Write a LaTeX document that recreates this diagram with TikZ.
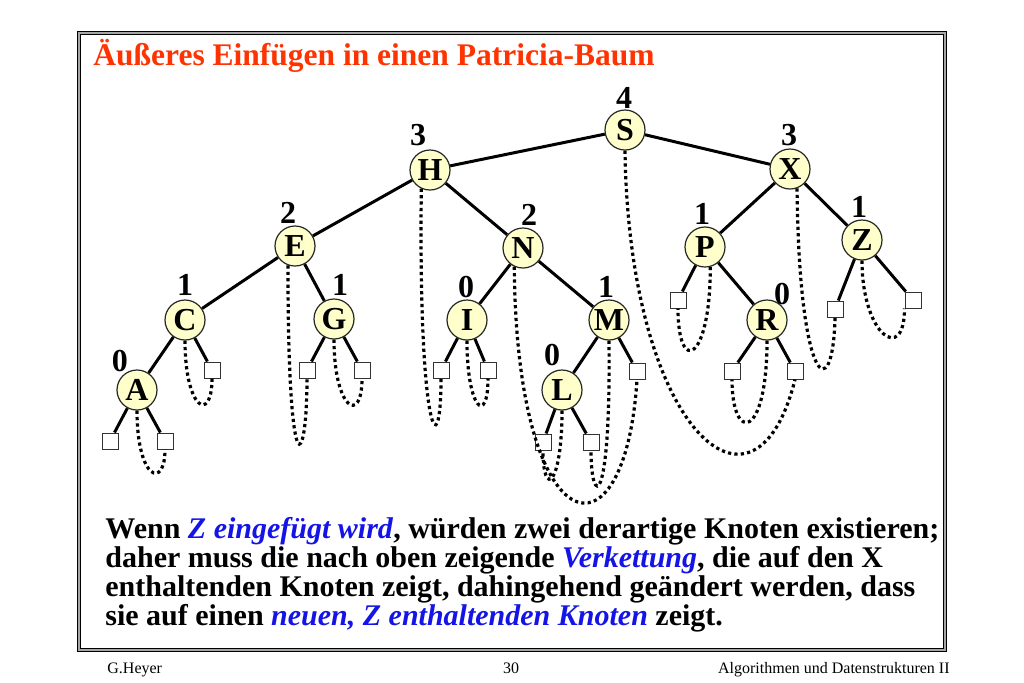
\documentclass[tikz,border=0pt]{standalone}
\usepackage{fontspec}
\setmainfont{Liberation Serif}
\definecolor{titelrot}{RGB}{255,51,0}
\definecolor{hinweisblau}{RGB}{20,20,230}
\definecolor{knotengelb}{RGB}{255,255,204}
\newcommand{\hervor}[1]{\textcolor{hinweisblau}{\textit{#1}}}
\begin{document}
\begin{tikzpicture}[x=0.5pt, y=-0.5pt,
	knoten/.style={circle, draw=black!85, line width=0.6pt, fill=knotengelb, minimum size=20pt, inner sep=0pt, font=\fontsize{16}{16}\selectfont\bfseries},
	blatt/.style={rectangle, draw=black!80, line width=0.5pt, fill=white, minimum size=8pt, inner sep=0pt},
	bit/.style={inner sep=0pt, font=\fontsize{16}{16}\selectfont\bfseries},
	kante/.style={line width=1.5pt, black},
	zeiger/.style={line width=1.6pt, dash pattern=on 1.6pt off 1.6pt, black},
	rahmen/.style={draw=black, line width=0.6pt, double=black!35, double distance=1.1pt}]
	\useasboundingbox (0,0) rectangle (1024,682);
	\draw[rahmen] (79,33) rectangle (945,650);
	\node[anchor=base west, inner sep=0pt, text=titelrot, font=\fontsize{15.75}{18}\selectfont\bfseries] (titel) at (93,65) {Äußeres Einfügen in einen Patricia-Baum};
	
	% Knoten
	\node[knoten] (S) at (625,130) {S};
	\node[knoten] (H) at (430,170) {H};
	\node[knoten] (X) at (790,169) {X};
	\node[knoten] (E) at (295,246) {E};
	\node[knoten] (N) at (523,248) {N};
	\node[knoten] (P) at (705,247) {P};
	\node[knoten] (Z) at (862,240) {Z};
	\node[knoten] (C) at (185,320) {C};
	\node[knoten] (G) at (334,319) {G};
	\node[knoten] (I) at (467,320) {I};
	\node[knoten] (M) at (609,320) {M};
	\node[knoten] (R) at (767,320) {R};
	\node[knoten] (A) at (137,390) {A};
	\node[knoten] (L) at (562,390) {L};
	
	\node[bit] (bS) at (624,98) {4};
	\node[bit] (bH) at (418,135) {3};
	\node[bit] (bX) at (789,135) {3};
	\node[bit] (bE) at (288,213) {2};
	\node[bit] (bN) at (529,215) {2};
	\node[bit] (bP) at (702,214) {1};
	\node[bit] (bZ) at (859,207) {1};
	\node[bit] (bC) at (185,285) {1};
	\node[bit] (bG) at (340,285) {1};
	\node[bit] (bI) at (466,287) {0};
	\node[bit] (bM) at (606,287) {1};
	\node[bit] (bR) at (782,294) {0};
	\node[bit] (bA) at (120,361) {0};
	\node[bit] (bL) at (552,355) {0};
	
	% Blaetter
	\node[blatt] (a1) at (110,441) {};
	\node[blatt] (a2) at (165,441) {};
	\node[blatt] (c2) at (212,370) {};
	\node[blatt] (g1) at (307,370) {};
	\node[blatt] (g2) at (362,370) {};
	\node[blatt] (i1) at (441,370) {};
	\node[blatt] (i2) at (488,370) {};
	\node[blatt] (m2) at (637,371) {};
	\node[blatt] (l1) at (543,442) {};
	\node[blatt] (l2) at (591,442) {};
	\node[blatt] (p1) at (678,300) {};
	\node[blatt] (r1) at (732,371) {};
	\node[blatt] (r2) at (795,371) {};
	\node[blatt] (z1) at (835,309) {};
	\node[blatt] (z2) at (913,300) {};
	
	\draw[kante] (S) -- (H);
	\draw[kante] (S) -- (X);
	\draw[kante] (H) -- (E);
	\draw[kante] (H) -- (N);
	\draw[kante] (E) -- (C);
	\draw[kante] (E) -- (G);
	\draw[kante] (C) -- (A);
	\draw[kante] (C) -- (c2);
	\draw[kante] (A) -- (a1);
	\draw[kante] (A) -- (a2);
	\draw[kante] (G) -- (g1);
	\draw[kante] (G) -- (g2);
	\draw[kante] (N) -- (I);
	\draw[kante] (N) -- (M);
	\draw[kante] (I) -- (i1);
	\draw[kante] (I) -- (i2);
	\draw[kante] (M) -- (L);
	\draw[kante] (M) -- (m2);
	\draw[kante] (L) -- (l1);
	\draw[kante] (L) -- (l2);
	\draw[kante] (X) -- (P);
	\draw[kante] (X) -- (Z);
	\draw[kante] (P) -- (p1);
	\draw[kante] (P) -- (R);
	\draw[kante] (R) -- (r1);
	\draw[kante] (R) -- (r2);
	\draw[kante] (Z) -- (z1);
	\draw[kante] (Z) -- (z2);
	
	% Verkettungen nach oben
	\draw[zeiger] (A.south) .. controls +(0,70) and +(0,40) .. (a2.south);
	\draw[zeiger] (C.south) .. controls +(0,70) and +(0,45) .. (c2.south);
	\draw[zeiger] (E.-110) .. controls +(0,230) and +(0,90) .. (g1.south);
	\draw[zeiger] (G.south) .. controls +(0,70) and +(0,47) .. (g2.south);
	\draw[zeiger] (H.-115) .. controls +(-3,250) and +(0,90) .. (i1.south);
	\draw[zeiger] (I.south) .. controls +(0,70) and +(0,47) .. (i2.south);
	\draw[zeiger] (N.-115) .. controls +(2,279) and +(-12,191) .. (m2.south);
	\draw[zeiger] (M.south) .. controls +(2,170) and +(0,58) .. (l2.south);
	\draw[zeiger] (L.south) .. controls +(0,75) and +(0,49) .. (l1.south);
	\draw[zeiger] (S.south) .. controls +(4,280) and +(-40,161) .. (r2.south);
	\draw[zeiger] (P.-75) .. controls +(0,95) and +(0,68) .. (p1.south);
	\draw[zeiger] (R.south) .. controls +(0,100) and +(0,64) .. (r1.south);
	\draw[zeiger] (X.-70) .. controls +(2,200) and +(-2,90) .. (z1.south);
	\draw[zeiger] (Z.south) .. controls +(0,75) and +(0,56) .. (z2.south west);
	
	\node[anchor=north west, align=left, inner sep=0pt, font=\fontsize{15}{14.5}\selectfont\bfseries] (erklaerung) at (105,517) {Wenn \hervor{Z eingefügt wird}, würden zwei derartige Knoten existieren;\\daher muss die nach oben zeigende \hervor{Verkettung}, die auf den X\\enthaltenden Knoten zeigt, dahingehend geändert werden, dass\\sie auf einen \hervor{neuen, Z enthaltenden Knoten} zeigt.};
	
	\node[anchor=base west, inner sep=0pt, font=\fontsize{8}{9}\selectfont] (autor) at (107,673) {G.Heyer};
	\node[anchor=base, inner sep=0pt, font=\fontsize{8}{9}\selectfont] (seite) at (511,673) {30};
	\node[anchor=base east, inner sep=0pt, font=\fontsize{8}{9}\selectfont] (vorlesung) at (950,673) {Algorithmen und Datenstrukturen II};
\end{tikzpicture}
\end{document}
